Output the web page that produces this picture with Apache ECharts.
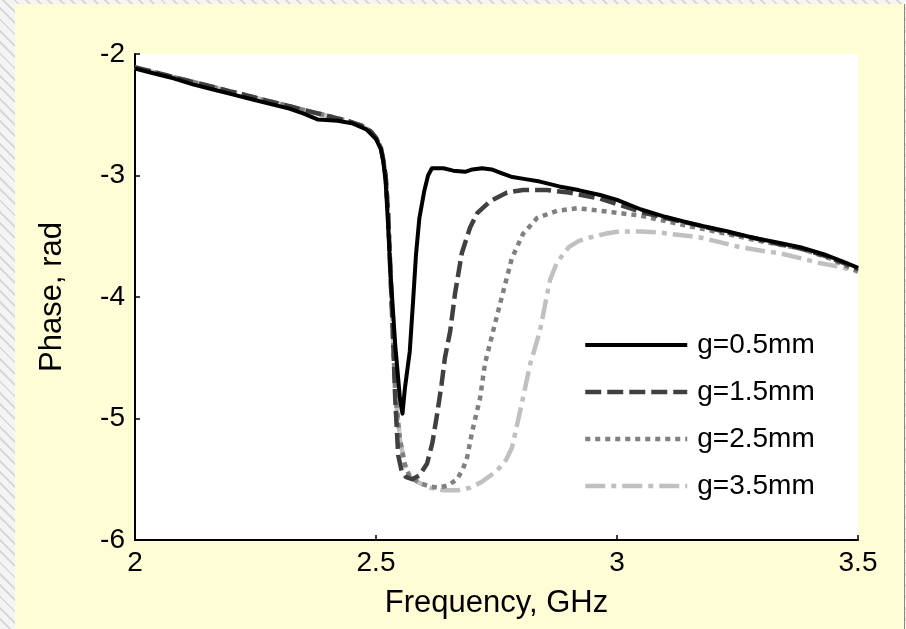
<!DOCTYPE html>
<html>
<head>
<meta charset="utf-8">
<script src="https://cdn.jsdelivr.net/npm/echarts@6/dist/echarts.min.js"></script>
<style>
  html, body { margin: 0; padding: 0; }
  body {
    width: 906px; height: 629px; overflow: hidden; position: relative;
    background: repeating-linear-gradient(45deg, #f4f4f4 0px, #f4f4f4 6px, #d9d9d9 6px, #d9d9d9 8px);
  }
  #panel { position: absolute; left: 15px; top: 4px; width: 889px; height: 625px; background: #FFFDD6; border-right: 1px solid #8a8a8a; }
  #chart { position: absolute; left: 0; top: 0; width: 906px; height: 629px; }
</style>
</head>
<body>
<div id="panel"></div>
<div id="chart"></div>
<script>
// Tick values
var xTicks = [2, 2.5, 3, 3.5];
var yTicks = [-6, -5, -4, -3, -2];
var seriesNames = ['g=0.5mm', 'g=1.5mm', 'g=2.5mm', 'g=3.5mm'];

// [frequency GHz, phase rad]
var g05 = [
  [2.00,-2.12],[2.04,-2.16],[2.08,-2.20],[2.12,-2.25],[2.16,-2.29],[2.20,-2.33],[2.24,-2.37],
  [2.28,-2.41],[2.32,-2.45],[2.35,-2.49],[2.38,-2.54],[2.42,-2.55],[2.45,-2.57],[2.48,-2.62],
  [2.50,-2.70],[2.51,-2.78],[2.515,-2.88],[2.52,-3.05],[2.525,-3.40],[2.53,-3.80],[2.54,-4.40],
  [2.55,-4.85],[2.555,-4.96],[2.56,-4.75],[2.57,-4.45],[2.577,-4.03],[2.583,-3.65],[2.59,-3.35],
  [2.60,-3.13],[2.608,-3.00],[2.616,-2.94],[2.64,-2.94],[2.66,-2.96],[2.685,-2.97],[2.70,-2.95],
  [2.72,-2.94],[2.74,-2.95],[2.76,-2.98],[2.78,-3.01],[2.81,-3.03],[2.84,-3.05],[2.88,-3.09],
  [2.92,-3.12],[2.965,-3.16],[3.00,-3.20],[3.05,-3.28],[3.10,-3.34],[3.17,-3.41],[3.23,-3.46],
  [3.28,-3.51],[3.33,-3.55],[3.38,-3.59],[3.43,-3.65],[3.47,-3.71],[3.50,-3.76]
];

var preGray = [
  [2.00,-2.11],[2.04,-2.15],[2.08,-2.19],[2.12,-2.23],[2.16,-2.27],[2.20,-2.31],[2.24,-2.35],
  [2.28,-2.39],[2.32,-2.43],[2.36,-2.47],[2.40,-2.51],[2.44,-2.55],[2.47,-2.59],[2.49,-2.64],
  [2.50,-2.69],[2.51,-2.77],[2.515,-2.87]
];

var g15Dip = [
  [2.52,-3.00],[2.525,-3.30],[2.53,-3.80],[2.535,-4.30],[2.54,-4.85],[2.546,-5.30],[2.553,-5.43],
  [2.562,-5.48],[2.575,-5.50],[2.59,-5.47],[2.606,-5.37],[2.617,-5.20],[2.627,-4.96],[2.636,-4.72],
  [2.643,-4.50],[2.654,-4.28],[2.664,-3.97],[2.678,-3.64],[2.695,-3.43],[2.71,-3.31],[2.737,-3.21],
  [2.772,-3.14],[2.805,-3.12],[2.855,-3.12],[2.90,-3.14],[2.965,-3.19],[3.05,-3.30],[3.10,-3.35],
  [3.17,-3.41],[3.23,-3.47],[3.28,-3.51],[3.33,-3.56],[3.38,-3.60],[3.43,-3.66],[3.47,-3.72],[3.50,-3.77]
];

var g25Dip = [
  [2.52,-3.00],[2.525,-3.30],[2.53,-3.80],[2.535,-4.30],[2.54,-4.80],[2.55,-5.18],[2.56,-5.38],
  [2.57,-5.48],[2.59,-5.53],[2.612,-5.56],[2.63,-5.57],[2.65,-5.55],[2.668,-5.50],[2.68,-5.42],
  [2.689,-5.32],[2.70,-5.10],[2.716,-4.83],[2.726,-4.55],[2.743,-4.28],[2.763,-3.97],[2.782,-3.68],
  [2.805,-3.48],[2.834,-3.35],[2.876,-3.29],[2.917,-3.27],[2.965,-3.29],[3.048,-3.33],[3.13,-3.40],
  [3.214,-3.47],[3.297,-3.54],[3.38,-3.60],[3.44,-3.68],[3.50,-3.79]
];

var g35Dip = [
  [2.52,-3.00],[2.525,-3.30],[2.53,-3.80],[2.535,-4.30],[2.54,-4.80],[2.55,-5.18],[2.56,-5.38],
  [2.57,-5.48],[2.59,-5.53],[2.612,-5.57],[2.64,-5.59],[2.67,-5.59],[2.695,-5.57],[2.72,-5.52],
  [2.751,-5.43],[2.77,-5.34],[2.782,-5.24],[2.79,-5.10],[2.805,-4.83],[2.82,-4.55],[2.84,-4.28],
  [2.861,-3.86],[2.875,-3.72],[2.888,-3.65],[2.90,-3.59],[2.92,-3.54],[2.944,-3.51],[2.975,-3.48],
  [3.006,-3.46],[3.05,-3.46],[3.089,-3.47],[3.13,-3.49],[3.172,-3.51],[3.215,-3.55],[3.255,-3.59],
  [3.30,-3.62],[3.338,-3.64],[3.38,-3.68],[3.42,-3.72],[3.46,-3.75],[3.50,-3.79]
];

var g15 = preGray.concat(g15Dip);
var g25 = preGray.concat(g25Dip);
var g35 = preGray.concat(g35Dip);

var colors = ['#000000', '#404040', '#808080', '#c0c0c0'];
var widths = [4, 4.5, 4.5, 4.5];
var dashes = ['solid', [16, 6], [5, 5], [20, 6, 5, 6]];

var font = '"Liberation Sans", Arial, Helvetica, sans-serif';
var chart = echarts.init(document.getElementById('chart'), null, { renderer: 'canvas' });

function mkSeries(i, data, z) {
  return {
    name: seriesNames[i], type: 'line', data: data, showSymbol: false, symbol: 'none',
    smooth: false, animation: false, z: z,
    lineStyle: { color: colors[i], width: widths[i], type: dashes[i], cap: 'butt', join: 'round' },
    itemStyle: { color: colors[i] }
  };
}

chart.setOption({
  backgroundColor: 'transparent',
  animation: false,
  textStyle: { fontFamily: font },
  grid: { left: 135, right: 48, top: 54, bottom: 89, show: true, backgroundColor: '#ffffff', borderWidth: 0 },
  legend: {
    data: seriesNames.map(function (n, i) {
      return {
        name: n,
        itemStyle: { opacity: 0 },
        lineStyle: { color: colors[i], width: widths[i], type: dashes[i], cap: 'butt', opacity: 1 }
      };
    }),
    orient: 'vertical', left: 578, top: 325,
    itemWidth: 102, itemHeight: 14, itemGap: 17,
    textStyle: { fontSize: 28, color: '#000', fontFamily: font, lineHeight: 30, padding: [0, 0, 0, 5] },
    backgroundColor: 'transparent'
  },
  xAxis: {
    type: 'value', min: xTicks[0], max: xTicks[xTicks.length - 1], interval: 0.5,
    name: 'Frequency, GHz', nameLocation: 'middle', nameGap: 48,
    nameTextStyle: { fontSize: 31, color: '#000', fontFamily: font },
    axisLine: { show: true, onZero: false, lineStyle: { color: '#000', width: 2 } },
    axisTick: { show: true, inside: true, length: 5, lineStyle: { color: '#000', width: 1.5 } },
    axisLabel: { color: '#000', fontSize: 28, margin: 9, fontFamily: font },
    splitLine: { show: false }
  },
  yAxis: {
    type: 'value', min: yTicks[0], max: yTicks[yTicks.length - 1], interval: 1,
    name: 'Phase, rad', nameLocation: 'middle', nameGap: 67,
    nameTextStyle: { fontSize: 31, color: '#000', fontFamily: font },
    axisLine: { show: true, onZero: false, lineStyle: { color: '#000', width: 2 } },
    axisTick: { show: true, inside: true, length: 5, lineStyle: { color: '#000', width: 1.5 } },
    axisLabel: { color: '#000', fontSize: 28, margin: 10, fontFamily: font },
    splitLine: { show: false }
  },
  series: [
    mkSeries(0, g05, 6),
    mkSeries(1, g15, 5),
    mkSeries(2, g25, 4),
    mkSeries(3, g35, 3)
  ]
});
</script>
</body>
</html>
